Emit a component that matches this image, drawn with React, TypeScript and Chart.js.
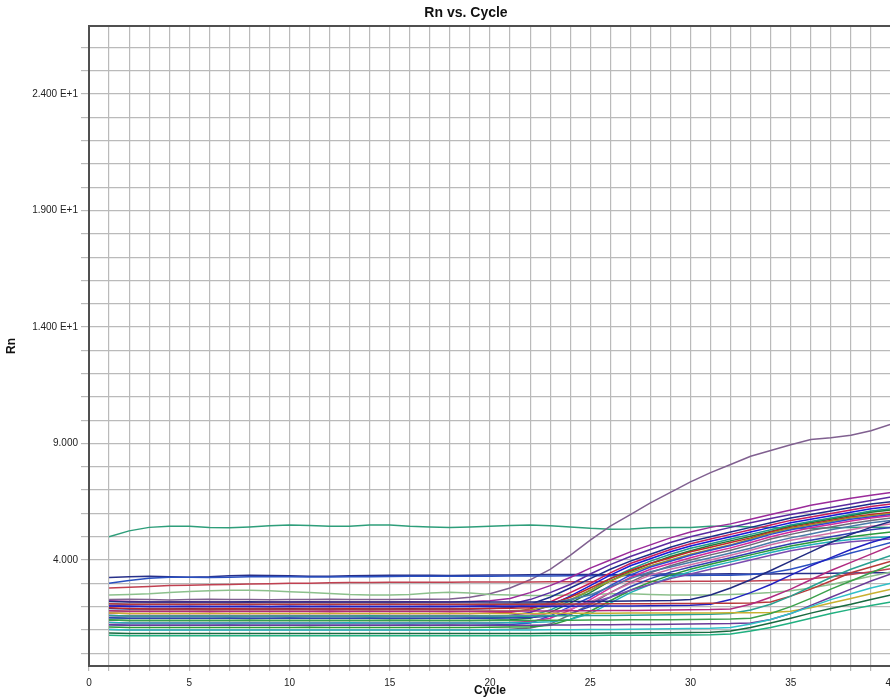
import React, { useEffect, useRef } from "react";
import { Chart, registerables } from "chart.js";
Chart.register(...registerables);

const FONT = "'Liberation Sans', Arial, sans-serif";

const cycles = [1,2,3,4,5,6,7,8,9,10,11,12,13,14,15,16,17,18,19,20,21,22,23,24,25,26,27,28,29,30,31,32,33,34,35,36,37,38,39,40];
const xTickValues = [0, 5, 10, 15, 20, 25, 30, 35, 40];
const yTickValues = [4, 9, 14, 19, 24];
const yTickLabels = ["4.000", "9.000", "1.400 E+1", "1.900 E+1", "2.400 E+1"];

// flat / special curves
const greenHigh = [5.0,5.25,5.4,5.45,5.45,5.4,5.38,5.42,5.47,5.5,5.48,5.45,5.45,5.5,5.5,5.45,5.42,5.4,5.42,5.45,5.48,5.5,5.47,5.42,5.36,5.32,5.33,5.38,5.4,5.4,5.45,5.45,5.42,5.4,5.36,5.35,5.38,5.4,5.42,5.4];
const navyFlat = [3.25,3.28,3.3,3.28,3.26,3.28,3.32,3.34,3.33,3.32,3.3,3.3,3.32,3.33,3.35,3.35,3.34,3.33,3.34,3.36,3.36,3.37,3.38,3.38,3.38,3.37,3.38,3.4,3.4,3.4,3.4,3.41,3.4,3.4,3.42,3.42,3.43,3.44,3.45,3.45];
const blueLate = [3.0,3.12,3.22,3.26,3.26,3.25,3.26,3.28,3.28,3.28,3.27,3.27,3.28,3.28,3.29,3.3,3.3,3.3,3.3,3.3,3.31,3.31,3.31,3.32,3.32,3.32,3.33,3.33,3.33,3.33,3.34,3.35,3.38,3.45,3.6,3.82,4.05,4.3,4.52,4.75];
const redFlat = [2.8,2.83,2.86,2.9,2.92,2.94,2.95,2.97,2.98,3.0,3.0,3.02,3.03,3.03,3.04,3.05,3.05,3.05,3.06,3.06,3.06,3.06,3.07,3.07,3.07,3.08,3.08,3.08,3.08,3.09,3.09,3.1,3.1,3.12,3.15,3.2,3.28,3.38,3.5,3.62];
const lightGreen = [2.5,2.52,2.55,2.6,2.65,2.68,2.7,2.7,2.68,2.64,2.6,2.56,2.52,2.5,2.5,2.52,2.58,2.62,2.58,2.52,2.5,2.48,2.48,2.5,2.52,2.55,2.55,2.52,2.5,2.5,2.5,2.52,2.55,2.6,2.68,2.8,2.95,3.12,3.3,3.48];
const purpleEarly = [2.3,2.32,2.3,2.28,2.3,2.31,2.3,2.3,2.29,2.3,2.3,2.31,2.3,2.3,2.3,2.31,2.32,2.33,2.4,2.55,2.8,3.15,3.6,4.2,4.85,5.45,5.95,6.45,6.9,7.35,7.75,8.1,8.45,8.7,8.95,9.17,9.25,9.35,9.55,9.83];

// main amplification group
const m1 = [2.25,2.22,2.2,2.2,2.21,2.2,2.2,2.19,2.2,2.2,2.21,2.2,2.2,2.2,2.2,2.21,2.2,2.2,2.22,2.25,2.35,2.6,2.9,3.25,3.65,4.0,4.35,4.65,4.95,5.2,5.4,5.55,5.75,5.95,6.15,6.35,6.5,6.65,6.78,6.9];
const m2 = [2.05,2.02,2.0,2.0,2.01,2.0,2.0,2.0,1.99,2.0,2.0,2.01,2.0,2.0,2.0,2.0,2.01,2.0,2.02,2.05,2.1,2.3,2.6,2.95,3.4,3.8,4.15,4.45,4.75,5.0,5.2,5.4,5.6,5.78,5.95,6.1,6.25,6.4,6.55,6.7];
const m3 = [1.92,1.9,1.9,1.9,1.91,1.9,1.9,1.9,1.9,1.91,1.9,1.9,1.9,1.9,1.9,1.91,1.9,1.9,1.9,1.92,1.95,2.1,2.4,2.8,3.2,3.6,3.95,4.25,4.55,4.8,5.0,5.2,5.4,5.6,5.8,5.95,6.1,6.25,6.4,6.5];
const m4 = [1.72,1.7,1.7,1.7,1.7,1.71,1.7,1.7,1.7,1.7,1.7,1.71,1.7,1.7,1.7,1.7,1.7,1.71,1.7,1.72,1.75,1.9,2.2,2.6,3.0,3.45,3.85,4.15,4.45,4.7,4.9,5.1,5.3,5.5,5.7,5.85,6.0,6.15,6.3,6.4];
const m5 = [1.62,1.6,1.6,1.6,1.61,1.6,1.6,1.6,1.6,1.6,1.61,1.6,1.6,1.6,1.6,1.6,1.6,1.61,1.6,1.6,1.62,1.75,2.05,2.45,2.9,3.35,3.75,4.05,4.35,4.6,4.8,5.0,5.2,5.4,5.6,5.75,5.9,6.05,6.2,6.3];
const m6 = [1.52,1.5,1.5,1.5,1.5,1.5,1.51,1.5,1.5,1.5,1.5,1.5,1.5,1.51,1.5,1.5,1.5,1.5,1.5,1.52,1.54,1.6,1.85,2.25,2.7,3.2,3.6,3.95,4.25,4.5,4.7,4.9,5.1,5.3,5.5,5.65,5.8,5.95,6.1,6.2];
const m7 = [1.42,1.4,1.4,1.4,1.4,1.4,1.4,1.41,1.4,1.4,1.4,1.4,1.4,1.4,1.41,1.4,1.4,1.4,1.4,1.41,1.43,1.5,1.75,2.15,2.6,3.1,3.5,3.85,4.15,4.4,4.62,4.82,5.02,5.22,5.45,5.6,5.75,5.9,6.05,6.15];
const m8 = [1.95,1.92,1.9,1.9,1.9,1.9,1.91,1.9,1.9,1.9,1.9,1.9,1.91,1.9,1.9,1.9,1.9,1.9,1.91,1.92,1.93,1.95,2.1,2.4,2.8,3.2,3.55,3.85,4.1,4.35,4.55,4.75,4.95,5.2,5.4,5.55,5.7,5.85,5.95,6.05];
const m9 = [1.82,1.8,1.8,1.8,1.8,1.81,1.8,1.8,1.8,1.8,1.8,1.8,1.8,1.81,1.8,1.8,1.8,1.8,1.8,1.81,1.82,1.85,2.0,2.3,2.7,3.1,3.45,3.75,4.0,4.25,4.45,4.65,4.9,5.15,5.35,5.5,5.65,5.8,5.9,6.0];
const m10 = [1.22,1.2,1.2,1.2,1.2,1.2,1.21,1.2,1.2,1.2,1.2,1.2,1.2,1.2,1.2,1.21,1.2,1.2,1.2,1.21,1.23,1.3,1.6,2.0,2.4,2.9,3.35,3.7,3.95,4.2,4.42,4.62,4.85,5.1,5.3,5.45,5.6,5.75,5.85,5.95];
const m11 = [1.32,1.3,1.3,1.3,1.3,1.3,1.3,1.31,1.3,1.3,1.3,1.3,1.3,1.3,1.3,1.3,1.31,1.3,1.3,1.3,1.32,1.36,1.5,1.85,2.3,2.8,3.25,3.6,3.85,4.1,4.32,4.52,4.75,5.0,5.2,5.38,5.52,5.67,5.8,5.9];
const m12 = [1.02,1.0,1.0,1.0,1.0,1.0,1.0,1.0,1.01,1.0,1.0,1.0,1.0,1.0,1.0,1.0,1.0,1.01,1.0,1.01,1.03,1.08,1.25,1.65,2.1,2.6,3.05,3.45,3.75,4.0,4.22,4.42,4.65,4.9,5.1,5.28,5.42,5.57,5.7,5.8];
const m13 = [2.12,2.1,2.1,2.1,2.1,2.1,2.11,2.1,2.1,2.1,2.1,2.1,2.1,2.1,2.11,2.1,2.1,2.1,2.1,2.11,2.12,2.13,2.15,2.3,2.5,2.85,3.2,3.5,3.7,3.9,4.1,4.3,4.5,4.75,4.95,5.12,5.3,5.45,5.6,5.7];
const m14 = [1.62,1.6,1.6,1.6,1.6,1.6,1.6,1.61,1.6,1.6,1.6,1.6,1.6,1.6,1.6,1.61,1.6,1.6,1.6,1.61,1.62,1.64,1.7,1.9,2.2,2.6,3.0,3.35,3.6,3.8,4.0,4.2,4.42,4.65,4.85,5.0,5.15,5.3,5.45,5.55];
const m15 = [1.52,1.5,1.5,1.5,1.5,1.5,1.5,1.5,1.5,1.51,1.5,1.5,1.5,1.5,1.5,1.5,1.5,1.5,1.51,1.5,1.51,1.53,1.58,1.7,2.0,2.4,2.85,3.2,3.48,3.7,3.9,4.1,4.3,4.5,4.7,4.85,5.0,5.15,5.3,5.4];
const m16 = [1.12,1.1,1.1,1.1,1.1,1.1,1.1,1.1,1.1,1.1,1.11,1.1,1.1,1.1,1.1,1.1,1.1,1.1,1.1,1.11,1.12,1.14,1.2,1.45,1.8,2.25,2.7,3.05,3.35,3.6,3.82,4.02,4.22,4.42,4.6,4.75,4.9,5.0,5.1,5.2];
const m17 = [1.32,1.3,1.3,1.3,1.3,1.3,1.3,1.3,1.3,1.3,1.3,1.3,1.31,1.3,1.3,1.3,1.3,1.3,1.3,1.3,1.31,1.32,1.35,1.45,1.7,2.15,2.6,2.95,3.25,3.5,3.72,3.92,4.12,4.32,4.5,4.65,4.78,4.88,4.95,5.0];
const m18 = [2.02,2.0,2.0,2.0,2.0,2.0,2.0,2.01,2.0,2.0,2.0,2.0,2.0,2.0,2.0,2.0,2.0,2.01,2.0,2.0,2.02,2.04,2.06,2.08,2.15,2.4,2.7,2.95,3.2,3.4,3.6,3.8,4.0,4.2,4.4,4.55,4.68,4.78,4.85,4.9];

// late amplification group
const l1 = [2.22,2.2,2.2,2.2,2.2,2.2,2.2,2.21,2.2,2.2,2.2,2.2,2.2,2.2,2.2,2.2,2.2,2.2,2.21,2.2,2.2,2.2,2.21,2.22,2.22,2.23,2.24,2.25,2.26,2.3,2.5,2.8,3.15,3.55,3.95,4.35,4.75,5.1,5.4,5.65];
const l2 = [2.02,2.0,2.0,2.0,2.0,2.0,2.0,2.0,2.0,2.01,2.0,2.0,2.0,2.0,2.0,2.0,2.0,2.0,2.0,2.0,2.01,2.0,2.0,2.01,2.02,2.02,2.03,2.04,2.05,2.06,2.1,2.3,2.6,2.95,3.35,3.75,4.1,4.45,4.75,5.0];
const l3 = [1.82,1.8,1.8,1.8,1.8,1.8,1.8,1.8,1.8,1.8,1.8,1.81,1.8,1.8,1.8,1.8,1.8,1.8,1.8,1.8,1.8,1.81,1.81,1.82,1.82,1.83,1.83,1.84,1.85,1.86,1.87,1.9,2.1,2.4,2.75,3.15,3.55,3.9,4.25,4.6];
const l4 = [1.62,1.6,1.6,1.6,1.6,1.6,1.6,1.6,1.6,1.6,1.6,1.6,1.6,1.61,1.6,1.6,1.6,1.6,1.6,1.6,1.6,1.6,1.61,1.61,1.62,1.62,1.63,1.64,1.65,1.66,1.67,1.7,1.85,2.1,2.45,2.85,3.25,3.6,3.9,4.2];
const l5 = [1.42,1.4,1.4,1.4,1.4,1.4,1.4,1.4,1.4,1.4,1.4,1.4,1.4,1.4,1.4,1.41,1.4,1.4,1.4,1.4,1.4,1.4,1.41,1.41,1.42,1.42,1.43,1.43,1.44,1.45,1.46,1.47,1.5,1.7,2.0,2.35,2.75,3.1,3.45,3.8];
const l6 = [1.22,1.2,1.2,1.2,1.2,1.2,1.2,1.2,1.2,1.2,1.2,1.2,1.2,1.2,1.2,1.2,1.2,1.21,1.2,1.2,1.2,1.2,1.21,1.21,1.22,1.22,1.23,1.23,1.24,1.25,1.26,1.27,1.3,1.45,1.7,2.05,2.4,2.75,3.1,3.4];
const l7 = [1.02,1.0,1.0,1.0,1.0,1.0,1.0,1.0,1.0,1.0,1.0,1.0,1.0,1.0,1.0,1.0,1.0,1.0,1.0,1.01,1.0,1.0,1.01,1.01,1.02,1.02,1.03,1.04,1.05,1.06,1.07,1.1,1.25,1.45,1.7,2.0,2.3,2.55,2.8,3.0];
const l8 = [0.87,0.85,0.85,0.85,0.85,0.85,0.85,0.85,0.85,0.85,0.85,0.85,0.85,0.85,0.85,0.85,0.85,0.85,0.85,0.85,0.85,0.85,0.86,0.86,0.86,0.87,0.87,0.88,0.88,0.89,0.9,0.95,1.1,1.3,1.5,1.72,1.92,2.1,2.3,2.5];
const l9 = [0.77,0.75,0.75,0.75,0.75,0.75,0.75,0.75,0.75,0.75,0.75,0.75,0.75,0.75,0.75,0.75,0.75,0.75,0.75,0.75,0.75,0.75,0.76,0.76,0.76,0.77,0.77,0.77,0.78,0.78,0.79,0.82,0.95,1.1,1.3,1.5,1.7,1.88,2.05,2.2];
const l10 = [1.72,1.7,1.7,1.7,1.7,1.7,1.7,1.7,1.7,1.7,1.7,1.7,1.7,1.7,1.7,1.7,1.7,1.7,1.7,1.7,1.7,1.7,1.7,1.71,1.71,1.71,1.72,1.72,1.72,1.73,1.73,1.74,1.74,1.75,1.8,1.95,2.15,2.35,2.55,2.75];
const l11 = [2.12,2.1,2.1,2.1,2.1,2.1,2.1,2.1,2.1,2.1,2.1,2.1,2.1,2.1,2.1,2.1,2.1,2.1,2.1,2.1,2.1,2.1,2.11,2.11,2.11,2.12,2.12,2.12,2.13,2.13,2.14,2.14,2.15,2.2,2.45,2.75,3.1,3.45,3.7,3.95];

const seriesValues = [
  l9, l8, l7, l6, l5, l10, l4, l3, l11, l2, l1,
  m18, m17, m16, m15, m14, m13, m12, m11, m10, m9, m8, m7, m6, m5, m4, m3, m2, m1,
  lightGreen, redFlat, blueLate, navyFlat, purpleEarly, greenHigh,
];
const seriesColors = [
  "#20b080", "#186a40", "#30c0c8", "#6a3a98", "#3aa04a", "#c8b030", "#28a090", "#b02a80", "#b83838", "#2020c0", "#202a80",
  "#7a4ab0", "#20b0b8", "#2a9a3a", "#3040b0", "#d070a8", "#4a7aa8", "#6a6a7a", "#d02a9a", "#2a4ad0", "#9a9a2a", "#c02828", "#1e7a3a", "#1f9a8a", "#1818d8", "#c81e5a", "#1c2c8c", "#5a2aa0", "#9a2a9a",
  "#8cc08c", "#c04050", "#2a50c0", "#28308a", "#806090", "#2e9e7a",
];

const framePlugin = {
  id: "topFrame",
  afterDraw(chart: any) {
    const { ctx, chartArea } = chart;
    ctx.save();
    ctx.strokeStyle = "#505050";
    ctx.lineWidth = 2;
    ctx.beginPath();
    ctx.moveTo(chartArea.left, chartArea.top);
    ctx.lineTo(chartArea.right + 2, chartArea.top);
    ctx.stroke();
    ctx.restore();
  },
};

export default function App() {
  const ref = useRef<HTMLCanvasElement>(null);
  useEffect(() => {
    if (!ref.current) return;
    Chart.defaults.font.family = FONT;
    const chart = new Chart(ref.current, {
      type: "line",
      data: {
        datasets: seriesValues.map((vals, i) => ({
          data: vals.map((v, j) => ({ x: cycles[j], y: v })),
          borderColor: seriesColors[i],
          borderWidth: 1.5,
          pointRadius: 0,
          fill: false,
          tension: 0,
        })),
      },
      options: {
        responsive: false,
        animation: false,
        events: [],
        layout: { padding: 0 },
        plugins: {
          legend: { display: false },
          tooltip: { enabled: false },
          title: {
            display: true,
            text: "Rn vs. Cycle",
            color: "#111",
            font: { family: FONT, size: 14, weight: "bold" },
            padding: { top: 4.6, bottom: 4.6 },
          },
        },
        scales: {
          x: {
            type: "linear",
            min: 0,
            max: 40,
            ticks: {
              stepSize: 1,
              autoSkip: false,
              maxRotation: 0,
              includeBounds: false,
              padding: 6,
              color: "#222",
              font: { family: FONT, size: 10 },
              callback: (v: any) => (xTickValues.includes(Number(v)) ? String(v) : ""),
            },
            grid: { color: "#bababa", lineWidth: 1.2, tickLength: 5 },
            border: { color: "#505050", width: 2 },
            title: {
              display: true,
              text: "Cycle",
              color: "#111",
              font: { family: FONT, size: 12, weight: "bold" },
              padding: { top: 0, bottom: 1.8 },
            },
            afterFit: (s: any) => { s.height = 34; },
          },
          y: {
            type: "linear",
            min: -0.55,
            max: 26.92,
            ticks: {
              stepSize: 1,
              autoSkip: false,
              includeBounds: false,
              padding: 3,
              color: "#222",
              font: { family: FONT, size: 10 },
              callback: (v: any) => {
                const k = yTickValues.indexOf(Number(v));
                return k >= 0 ? yTickLabels[k] : "";
              },
            },
            grid: { color: "#bababa", lineWidth: 1.2, tickLength: 8 },
            border: { color: "#505050", width: 2 },
            title: {
              display: true,
              text: "Rn",
              color: "#111",
              font: { family: FONT, size: 12, weight: "bold" },
              padding: { top: 4.8, bottom: 0 },
            },
            afterFit: (s: any) => { s.width = 89; },
          },
          y2: {
            type: "linear",
            position: "right",
            display: true,
            grid: { display: false },
            ticks: { display: false },
            border: { display: false },
            afterFit: (s: any) => { s.width = 41; },
          },
        },
      } as any,
      plugins: [framePlugin],
    });
    return () => chart.destroy();
  }, []);
  return (
    <div style={{ position: "absolute", left: 0, top: 0, width: 890, height: 700, overflow: "hidden", background: "#fff" }}>
      <canvas ref={ref} width={932} height={700} style={{ display: "block" }} />
    </div>
  );
}
